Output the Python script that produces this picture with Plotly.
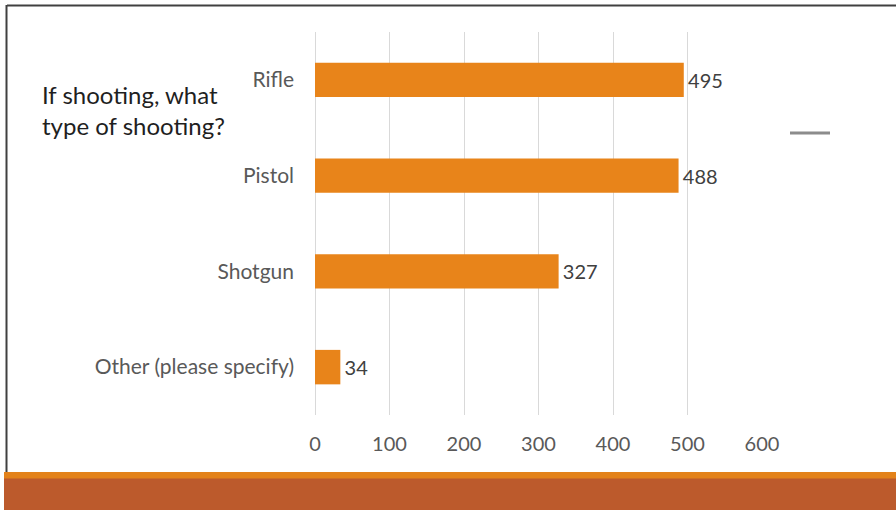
import plotly.graph_objects as go

# Survey answers, top to bottom
categories = ["Rifle", "Pistol", "Shotgun", "Other (please specify)"]
counts = [495, 488, 327, 34]
tick_values = [0, 100, 200, 300, 400, 500, 600]

W, H = 896, 510
L, R, T, B = 315, 134, 32, 95  # plot area margins in px
PW, PH = W - L - R, H - T - B


def px(x):
    return (x - L) / PW


def py(y):
    return (H - B - y) / PH


FONT = "Lato"
ORANGE = "#E8841A"

fig = go.Figure(
    go.Bar(
        x=counts,
        y=categories,
        orientation="h",
        marker=dict(color=ORANGE, line=dict(width=0)),
        width=0.36,
        text=counts,
        texttemplate="\u200a%{text}",
        textposition="outside",
        textfont=dict(family=FONT, size=20, color="#404040"),
        cliponaxis=False,
    )
)

fig.update_layout(
    width=W,
    height=H,
    margin=dict(l=L, r=R, t=T, b=B, pad=0),
    paper_bgcolor="white",
    plot_bgcolor="white",
    showlegend=False,
    font=dict(family=FONT, color="#595959", size=20),
    xaxis=dict(
        range=[0, 600],
        tickvals=tick_values,
        showgrid=True,
        gridcolor="#D9D9D9",
        gridwidth=1,
        zeroline=True,
        zerolinecolor="#D9D9D9",
        zerolinewidth=1,
        showline=False,
        ticks="",
        ticklabelstandoff=15,
        tickfont=dict(family=FONT, size=20, color="#595959"),
        fixedrange=True,
    ),
    yaxis=dict(
        categoryorder="array",
        categoryarray=categories[::-1],
        showgrid=False,
        zeroline=False,
        showline=False,
        ticks="",
        ticklabelstandoff=20,
        tickfont=dict(family=FONT, size=21, color="#595959"),
        fixedrange=True,
    ),
    annotations=[
        dict(
            text="If shooting, what<br>type of shooting?",
            xref="paper", yref="paper",
            x=px(40), y=py(110),
            xanchor="left", yanchor="middle", align="left",
            showarrow=False,
            font=dict(family=FONT, size=24, color="#1F1F1F"),
        )
    ],
    shapes=[
        # slide frame
        dict(type="line", xref="paper", yref="paper",
             x0=px(7), x1=px(900), y0=py(5.5), y1=py(5.5),
             line=dict(color="#404040", width=2)),
        dict(type="line", xref="paper", yref="paper",
             x0=px(6.5), x1=px(6.5), y0=py(5), y1=py(520),
             line=dict(color="#404040", width=2)),
        # footer bands
        dict(type="rect", xref="paper", yref="paper",
             x0=px(4), x1=px(900), y0=py(472), y1=py(479),
             fillcolor="#E3821A", line=dict(width=0)),
        dict(type="rect", xref="paper", yref="paper",
             x0=px(4), x1=px(900), y0=py(478.5), y1=py(520),
             fillcolor="#BC5A2C", line=dict(width=0)),
        # legend stub
        dict(type="line", xref="paper", yref="paper",
             x0=px(790), x1=px(830), y0=py(133), y1=py(133),
             line=dict(color="#8C8C8C", width=3)),
    ],
)

fig.write_html("out.html")
